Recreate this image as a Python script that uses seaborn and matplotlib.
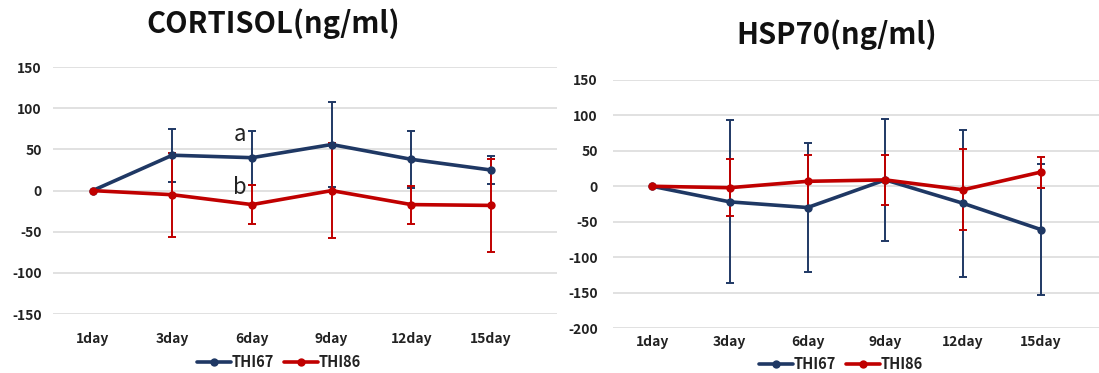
import numpy as np
import pandas as pd
import matplotlib
matplotlib.use("Agg")
import matplotlib.pyplot as plt
from matplotlib.lines import Line2D
import seaborn as sns

days = ["1day", "3day", "6day", "9day", "12day", "15day"]
groups = ["THI67", "THI86"]

cort_thi67 = [0, 43, 40, 56, 38, 25]
cort_thi67_err = [0, 32, 33, 52, 35, 17]
cort_thi86 = [0, -5, -17, 0, -17, -18]
cort_thi86_err = [0, 51, 24, 58, 23, 56]

hsp_thi67 = [0, -22, -30, 9, -24, -61]
hsp_thi67_err = [0, 115, 91, 86, 104, 93]
hsp_thi86 = [0, -2, 7, 9, -5, 20]
hsp_thi86_err = [0, 40, 37, 35, 57, 22]

colors = {"THI67": "#1F3864", "THI86": "#C00000"}

sns.set_theme(style="white")
plt.rcParams["font.family"] = ["Noto Sans CJK KR", "DejaVu Sans"]
plt.rcParams["axes.unicode_minus"] = False

fig = plt.figure(figsize=(10.99, 3.73), dpi=100)
ax1 = fig.add_axes([0.048, 0.158, 0.459, 0.662])
ax2 = fig.add_axes([0.558, 0.1206, 0.442, 0.665])


def draw(ax, v67, e67, v86, e86, ylim, yticks, xlim, ypad, xpad, leg_x, leg_y):
    df = pd.DataFrame({
        "day": days * 2,
        "value": list(v67) + list(v86),
        "group": ["THI67"] * len(days) + ["THI86"] * len(days),
    })
    x = np.arange(len(days))
    for g, vals, errs in (("THI67", v67, e67), ("THI86", v86, e86)):
        ax.errorbar(x[1:], np.array(vals)[1:], yerr=np.array(errs)[1:], fmt="none",
                    ecolor=colors[g], elinewidth=1.4, capsize=2.8, capthick=1.4,
                    zorder=3)
    sns.lineplot(data=df, x="day", y="value", hue="group", palette=colors,
                 marker="o", markersize=6, markeredgewidth=0, linewidth=2.6,
                 ax=ax, legend=False, zorder=4)
    ax.set_ylim(*ylim)
    ax.set_xlim(*xlim)
    ax.set_yticks(yticks)
    ax.set_xticks(x)
    ax.set_xticklabels(days)
    ax.grid(axis="y", color="#D9D9D9", linewidth=1.1)
    ax.set_axisbelow(True)
    for s in ax.spines.values():
        s.set_visible(False)
    ax.tick_params(axis="both", length=0, labelsize=10, colors="#222222")
    ax.tick_params(axis="y", pad=ypad)
    ax.tick_params(axis="x", pad=xpad)
    for lab in ax.get_xticklabels() + ax.get_yticklabels():
        lab.set_fontweight("bold")
    ax.set_xlabel("")
    ax.set_ylabel("")
    handles = [Line2D([0], [0], color=colors[g], lw=2.6, marker="o", markersize=6,
                      markeredgewidth=0) for g in groups]
    leg = fig.legend(handles, groups, loc="center",
                     bbox_to_anchor=(leg_x, leg_y),
                     ncol=2, frameon=False, handlelength=2.3, handletextpad=0.05,
                     columnspacing=0.7, prop={"weight": "bold", "size": 10.5})
    for t in leg.get_texts():
        t.set_color("#222222")


draw(ax1, cort_thi67, cort_thi67_err, cort_thi86, cort_thi86_err,
     (-150, 150), [-150, -100, -50, 0, 50, 100, 150], (-0.5, 5.83),
     8, 13, 279 / 1099, 1 - 362 / 373)
draw(ax2, hsp_thi67, hsp_thi67_err, hsp_thi86, hsp_thi86_err,
     (-200, 150), [-200, -150, -100, -50, 0, 50, 100, 150], (-0.5, 5.75),
     11, 5, 841 / 1099, 1 - 364 / 373)

fig.text(273 / 1099, 1 - 24 / 373, "CORTISOL(ng/ml)", ha="center", va="center",
         fontsize=21, fontweight="bold", color="#111111")
fig.text(837 / 1099, 1 - 35 / 373, "HSP70(ng/ml)", ha="center", va="center",
         fontsize=21, fontweight="bold", color="#111111")

ax1.text(1.85, 68, "a", ha="center", va="center", fontsize=16, color="#222222", zorder=6)
ax1.text(1.85, 4, "b", ha="center", va="center", fontsize=16, color="#222222", zorder=6)

fig.savefig("out.png", dpi=100)
